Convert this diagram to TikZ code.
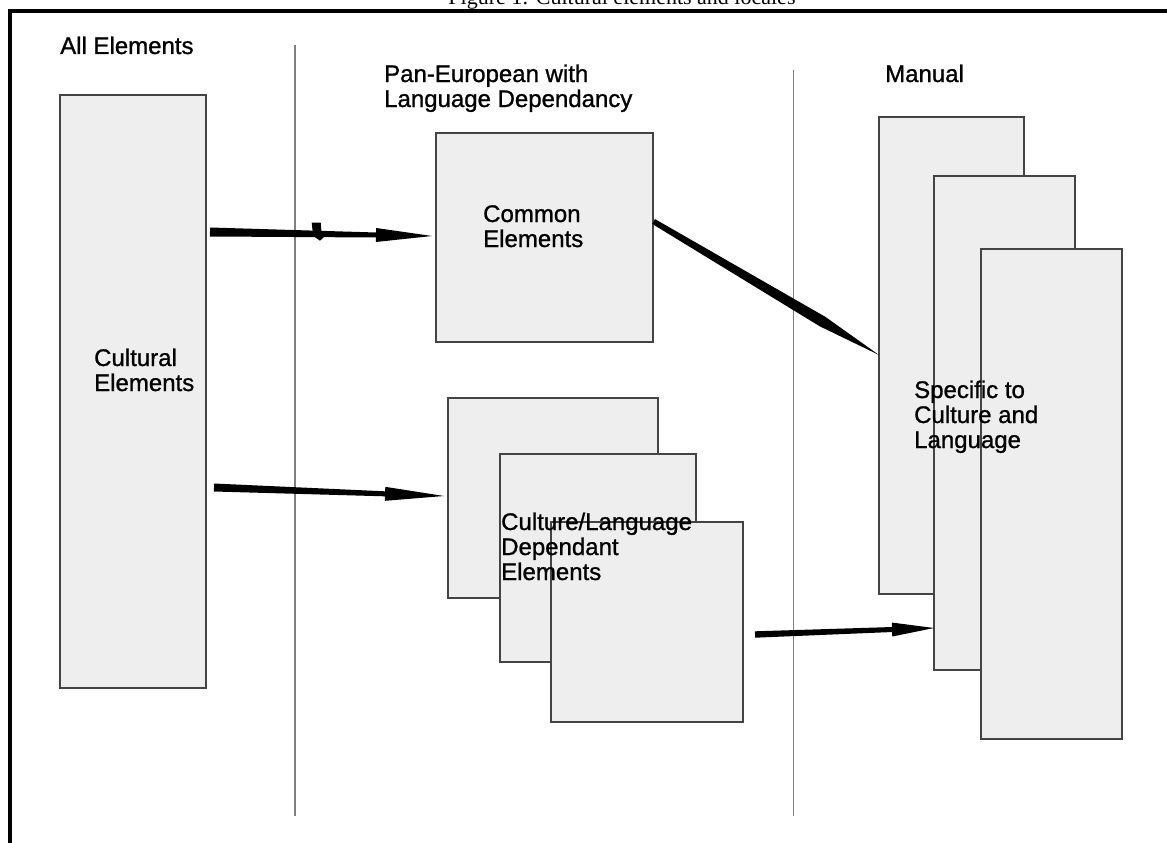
\documentclass[tikz,border=0pt]{standalone}
\usepackage{fontspec}
\setmainfont{Liberation Sans}[FakeBold=1]
\newfontfamily\titlefont{Liberation Serif}
\usetikzlibrary{calc}
\definecolor{boxfill}{HTML}{EEEEEE}
\definecolor{boxline}{HTML}{444444}
\definecolor{sepline}{HTML}{808080}
% tapered arrow: #1 tail, #2 tip, #3 tail half width, #4 neck half width, #5 head half width, #6 head length
\newcommand{\taperarrow}[6]{%
  \coordinate (hb) at ($(#2)!#6!(#1)$);
  \fill[black] ($(#1)!#3!90:(#2)$) -- ($(hb)!#4!90:(#2)$) -- ($(hb)!#5!90:(#2)$) -- (#2)
     -- ($(hb)!#5!-90:(#2)$) -- ($(hb)!#4!-90:(#2)$) -- ($(#1)!#3!-90:(#2)$) -- cycle;}
\newcommand{\lbl}[1]{\begin{tabular}[t]{@{}l@{}}#1\end{tabular}}
\tikzset{
  boxst/.style={draw=boxline, fill=boxfill, line width=1.2pt, inner sep=0pt, rectangle},
  lab/.style={inner sep=0pt, anchor=base west, font=\fontsize{24}{25}\selectfont},
  sepst/.style={draw=sepline, line width=1.3pt},
  framest/.style={draw=black, line width=3.5pt, line join=miter}
}
\begin{document}
\begin{tikzpicture}[x=1pt,y=-1pt]
\useasboundingbox (0,0) rectangle (1167,843);
\fill[white] (0,0) rectangle (1167,843);
% frame
\coordinate (fb) at (10,850);
\coordinate (fc) at (10,11);
\coordinate (fr) at (1175,11);
\draw[framest] (fb) -- (fc) -- (fr);
% title (cut at top, as in the source)
\node[inner sep=0pt, anchor=base, font=\titlefont\fontsize{22}{24}\selectfont] (title) at (622,4.5) {Figure 1: Cultural elements and locales};
% separators
\coordinate (s1t) at (295,45);
\coordinate (s1b) at (295,816);
\coordinate (s2t) at (793.5,70);
\coordinate (s2b) at (793.5,816);
\draw[sepst] (s1t) -- (s1b);
\draw[sepst] (s2t) -- (s2b);
% boxes
\node[boxst, minimum width=146pt, minimum height=593pt] (cult) at (133,391.5) {};
\node[boxst, minimum width=217pt, minimum height=209pt] (common) at (544.5,237.5) {};
\node[boxst, minimum width=210pt, minimum height=200pt] (cl1) at (553,498) {};
\node[boxst, minimum width=196pt, minimum height=208pt] (cl2) at (598,558) {};
\node[boxst, minimum width=192pt, minimum height=200pt] (cl3) at (647,622) {};
\node[boxst, minimum width=145pt, minimum height=477pt] (sc1) at (951.5,355.5) {};
\node[boxst, minimum width=141pt, minimum height=494pt] (sc2) at (1004.5,423) {};
\node[boxst, minimum width=141pt, minimum height=490pt] (sc3) at (1051.5,494) {};
% arrows
\coordinate (a1s) at (210,232);
\coordinate (a1t) at (432,236);
\coordinate (a2s) at (214,487.5);
\coordinate (a2t) at (444,496);
\coordinate (a3s) at (755,634.5);
\coordinate (a3t) at (934,628);
\taperarrow{a1s}{a1t}{4.5pt}{2.5pt}{7pt}{56pt}
\taperarrow{a2s}{a2t}{4pt}{2.5pt}{7pt}{59pt}
\taperarrow{a3s}{a3t}{3.2pt}{2.5pt}{7pt}{42pt}
% small tick on first arrow
\fill[black] (311.7,222.7) -- (320.7,222.7) -- (321.5,232) -- (325,236) -- (320,240.7) -- (314,236.5) -- (312.5,230) -- cycle;
% spindle from common elements to the specific boxes
\coordinate (dA) at ($(common.east)+(0,-16)$);
\coordinate (dB) at (879,355);
\coordinate (dM) at ($(dA)!0.75!(dB)$);
\fill[black] ($(dA)!2.8pt!90:(dB)$) -- ($(dM)!5.5pt!90:(dB)$) -- (dB) -- ($(dM)!5.5pt!-90:(dB)$) -- ($(dA)!2.8pt!-90:(dB)$) -- cycle;
% labels
\node[lab] (tAll) at (60,54) {All Elements};
\node[lab] (tPan) at (384,82) {\lbl{Pan-European with\\Language Dependancy}};
\node[lab] (tMan) at (885,82) {Manual};
\node[lab] (tCom) at (483,222) {\lbl{Common\\Elements}};
\node[lab] (tCul) at (94,366) {\lbl{Cultural\\Elements}};
\node[lab] (tCL) at (501,530) {\lbl{Culture/Language\\Dependant\\Elements}};
\node[lab] (tSC) at (914,398) {\lbl{Specific to\\Culture and\\Language}};
\end{tikzpicture}
\end{document}
